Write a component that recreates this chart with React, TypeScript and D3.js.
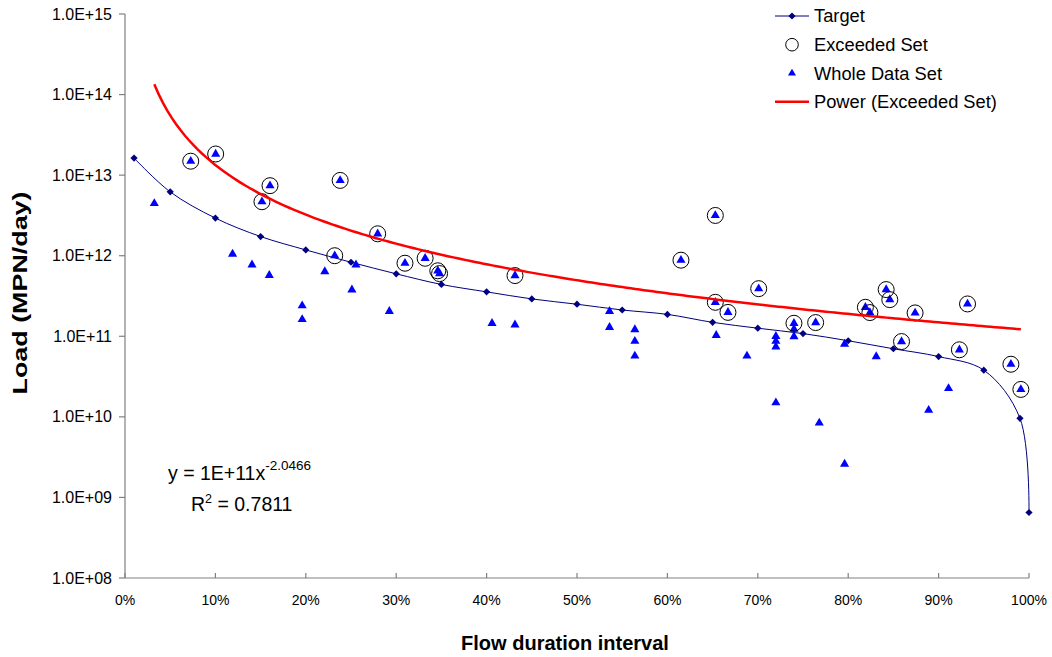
import React from "react";
import * as d3 from "d3";

// ---------- DATA ----------
const TARGET_X = [0.01, 0.05, 0.10, 0.15, 0.20, 0.25, 0.30, 0.35, 0.40, 0.45, 0.50, 0.55, 0.60, 0.65, 0.70, 0.75, 0.80, 0.85, 0.90, 0.95, 0.99, 1.00];
const TARGET_Y = [1.63e13, 6.2e12, 2.93e12, 1.73e12, 1.18e12, 8.3e11, 5.96e11, 4.4e11, 3.56e11, 2.91e11, 2.5e11, 2.12e11, 1.87e11, 1.49e11, 1.26e11, 1.08e11, 8.8e10, 7.0e10, 5.6e10, 3.8e10, 9.6e9, 6.5e8];

const WHOLE_X = [0.0324, 0.0727, 0.1003, 0.119, 0.1405, 0.1515, 0.1596, 0.1604, 0.196, 0.196, 0.221, 0.232, 0.238, 0.251, 0.2555, 0.2795, 0.2924, 0.3097, 0.332, 0.346, 0.348, 0.406, 0.4314, 0.4314, 0.536, 0.536, 0.564, 0.564, 0.564, 0.615, 0.653, 0.653, 0.654, 0.667, 0.688, 0.701, 0.72, 0.72, 0.72, 0.72, 0.74, 0.74, 0.74, 0.764, 0.768, 0.796, 0.796, 0.819, 0.824, 0.831, 0.842, 0.846, 0.859, 0.874, 0.889, 0.911, 0.923, 0.932, 0.98, 0.991];
const WHOLE_Y = [4.46e12, 1.49e13, 1.83e13, 1.05e12, 7.7e11, 4.68e12, 5.7e11, 7.4e12, 2.4e11, 1.62e11, 6.36e11, 1.0e12, 8.6e12, 3.77e11, 7.7e11, 1.87e12, 2.04e11, 8.07e11, 9.3e11, 6.5e11, 6.0e11, 1.45e11, 5.67e11, 1.39e11, 2.04e11, 1.29e11, 1.21e11, 8.7e10, 5.7e10, 8.8e11, 3.16e12, 2.64e11, 1.03e11, 1.98e11, 5.7e10, 3.9e11, 1.0e11, 8.7e10, 7.4e10, 1.5e10, 1.45e11, 1.23e11, 9.9e10, 1.48e11, 8.4e9, 8.0e10, 2.6e9, 2.29e11, 1.97e11, 5.6e10, 3.8e11, 2.85e11, 8.6e10, 1.95e11, 1.21e10, 2.25e10, 6.8e10, 2.52e11, 4.5e10, 2.19e10];

const EXCEEDED_X = [0.0727, 0.1003, 0.1515, 0.1604, 0.232, 0.238, 0.2795, 0.3097, 0.332, 0.346, 0.348, 0.4314, 0.615, 0.653, 0.653, 0.667, 0.701, 0.74, 0.764, 0.819, 0.824, 0.842, 0.846, 0.859, 0.874, 0.923, 0.932, 0.98, 0.991];
const EXCEEDED_Y = [1.49e13, 1.83e13, 4.68e12, 7.4e12, 1.0e12, 8.6e12, 1.87e12, 8.07e11, 9.3e11, 6.5e11, 6.0e11, 5.67e11, 8.8e11, 3.16e12, 2.64e11, 1.98e11, 3.9e11, 1.45e11, 1.48e11, 2.29e11, 1.97e11, 3.8e11, 2.85e11, 8.6e10, 1.95e11, 6.8e10, 2.52e11, 4.5e10, 2.19e10];

// Power trendline of the Exceeded Set (as displayed): y = a * x^b
const TREND_A = 1.2e11;
const TREND_B = -2.0466;
const TREND_RANGE = [0.0324, 0.991];

const Y_TICKS = [1e8, 1e9, 1e10, 1e11, 1e12, 1e13, 1e14, 1e15];
const X_TICKS = [0, 0.1, 0.2, 0.3, 0.4, 0.5, 0.6, 0.7, 0.8, 0.9, 1.0];

const LEGEND = ["Target", "Exceeded Set", "Whole Data Set", "Power (Exceeded Set)"];

// ---------- LAYOUT ----------
const W = 1052;
const H = 657;
const L = 125, R = 1029, T = 14, B = 578;
const FONT = "'Liberation Sans', Arial, Helvetica, sans-serif";
const NAVY = "#000080";
const BLUE = "#0000FF";
const RED = "#FF0000";
const AXIS = "#808080";

export default function App() {
  const x = d3.scaleLinear().domain([0, 1]).range([L, R]);
  const y = d3.scaleLog().domain([1e8, 1e15]).range([B, T]);

  const targetPts = TARGET_X.map((v, i) => [x(v), y(TARGET_Y[i])] as [number, number]);
  const targetLine = d3.line().curve(d3.curveCatmullRom.alpha(0.5))(targetPts) || "";

  const trendXs = d3.range(0, 201).map((i) => TREND_RANGE[0] + (TREND_RANGE[1] - TREND_RANGE[0]) * (i / 200));
  const trendLine =
    d3.line<number>()
      .x((v) => x(v))
      .y((v) => y(TREND_A * Math.pow(v, TREND_B)))(trendXs) || "";

  const tri = d3.symbol().type(d3.symbolTriangle).size(36)() || "";
  const triSmall = d3.symbol().type(d3.symbolTriangle).size(28)() || "";
  const diamond = d3.symbol().type(d3.symbolSquare).size(26)() || "";

  const legendX = 775;
  const legendRows = [16, 44.7, 73.3, 101.7];

  return (
    <svg width={W} height={H} style={{ position: "absolute", left: 0, top: 0, background: "#fff" }} fontFamily={FONT}>
      <rect x={0} y={0} width={W} height={H} fill="#fff" />

      {/* Axes */}
      <line x1={L} x2={L} y1={T} y2={B} stroke={AXIS} strokeWidth={1.2} />
      <line x1={L} x2={R} y1={B} y2={B} stroke={AXIS} strokeWidth={1.2} />

      {/* Y ticks */}
      {Y_TICKS.map((t) => (
        <g key={"yt" + t}>
          <line x1={L - 6} x2={L} y1={y(t)} y2={y(t)} stroke={AXIS} strokeWidth={1.2} />
          <text x={L - 13} y={y(t)} dy="0.35em" textAnchor="end" fontSize={16} fill="#000">
            {"1.0E+" + String(Math.round(Math.log10(t))).padStart(2, "0")}
          </text>
        </g>
      ))}

      {/* X ticks */}
      {X_TICKS.map((t) => (
        <g key={"xt" + t}>
          <line x1={x(t)} x2={x(t)} y1={B - 5} y2={B} stroke={AXIS} strokeWidth={1.2} />
          <text x={x(t)} y={605} textAnchor="middle" fontSize={14} fill="#000">
            {Math.round(t * 100) + "%"}
          </text>
        </g>
      ))}

      {/* Axis titles */}
      <text x={565} y={650} textAnchor="middle" fontSize={20} fontWeight="bold" fill="#000">
        Flow duration interval
      </text>
      <text
        transform={`translate(27,293) rotate(-90)`}
        textAnchor="middle"
        fontSize={20}
        fontWeight="bold"
        fill="#000"
        textLength={203}
        lengthAdjust="spacingAndGlyphs"
      >
        Load (MPN/day)
      </text>

      {/* Target line */}
      <path d={targetLine} fill="none" stroke={NAVY} strokeWidth={1} />
      {targetPts.map((p, i) => (
        <path key={"tg" + i} d={diamond} transform={`translate(${p[0]},${p[1]}) rotate(45)`} fill={NAVY} />
      ))}

      {/* Whole data set */}
      {WHOLE_X.map((v, i) => (
        <path key={"wd" + i} d={tri} transform={`translate(${x(v)},${y(WHOLE_Y[i])})`} fill={BLUE} />
      ))}

      {/* Exceeded set */}
      {EXCEEDED_X.map((v, i) => (
        <circle key={"ex" + i} cx={x(v)} cy={y(EXCEEDED_Y[i])} r={8} fill="none" stroke="#000" strokeWidth={1} />
      ))}

      {/* Power trend */}
      <path d={trendLine} fill="none" stroke={RED} strokeWidth={2.5} />

      {/* Equation */}
      <text x={168} y={480} fontSize={19.5} fill="#000">
        y = 1E+11x<tspan dy={-10} fontSize={13.5}>-2.0466</tspan>
      </text>
      <text x={191} y={511} fontSize={19.5} fill="#000">
        R<tspan dy={-8} fontSize={12.5}>2</tspan>
        <tspan dy={8}> = 0.7811</tspan>
      </text>

      {/* Legend */}
      <g>
        <line x1={legendX} x2={legendX + 34} y1={legendRows[0]} y2={legendRows[0]} stroke={NAVY} strokeWidth={1} />
        <path d={diamond} transform={`translate(${legendX + 17},${legendRows[0]}) rotate(45)`} fill={NAVY} />
        <circle cx={legendX + 17} cy={legendRows[1]} r={6.3} fill="none" stroke="#000" strokeWidth={1} />
        <path d={triSmall} transform={`translate(${legendX + 17},${legendRows[2]})`} fill={BLUE} />
        <line x1={legendX} x2={legendX + 34} y1={legendRows[3]} y2={legendRows[3]} stroke={RED} strokeWidth={2.5} />
        {LEGEND.map((s, i) => (
          <text key={"lg" + i} x={814} y={legendRows[i]} dy="0.35em" fontSize={18.3} fill="#000">
            {s}
          </text>
        ))}
      </g>
    </svg>
  );
}
